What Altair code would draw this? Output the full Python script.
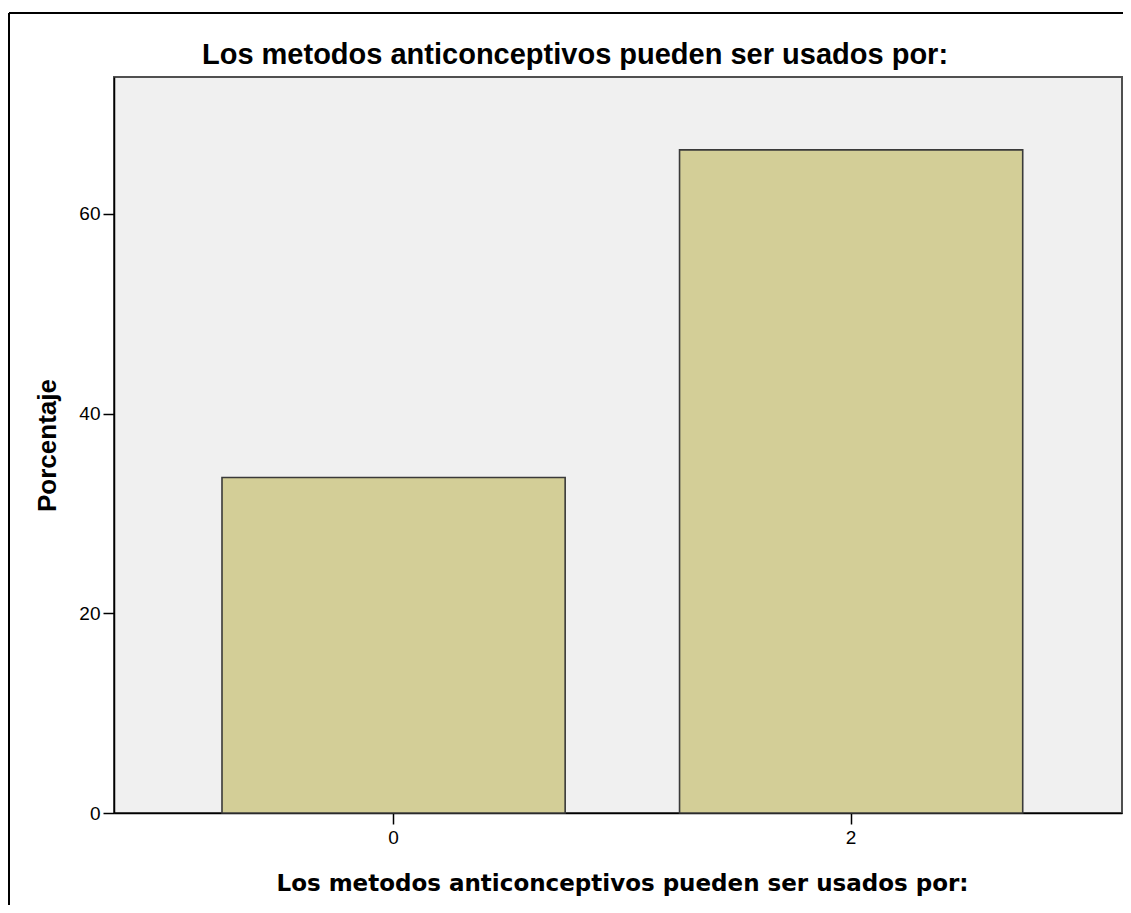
import altair as alt
import pandas as pd

categories = ["0", "2"]
percentages = [33.6, 66.4]
y_ticks = [0, 20, 40, 60]

TITLE = "Los metodos anticonceptivos pueden ser usados por:"

df = pd.DataFrame({"cat": categories, "pct": percentages})

W, H = 1008, 736
PL, PT = 106, 69
CW, CH = 1115, 897

bars = alt.Chart(df).mark_bar(
    color="#D3CE97", stroke="#3A3A3A", strokeWidth=1.6
).encode(
    x=alt.X(
        "cat:N",
        sort=categories,
        scale=alt.Scale(paddingInner=0.25, paddingOuter=0.2265, align=0.521),
        axis=alt.Axis(
            title=TITLE,
            labelAngle=0,
            labelFont="Liberation Sans",
            labelFontSize=19,
            labelColor="#000000",
            labelPadding=4,
            tickSize=11,
            tickColor="#000000",
            tickWidth=1.5,
            domainColor="#000000",
            domainWidth=1.5,
            titleFont="DejaVu Sans",
            titleFontWeight="bold",
            titleFontSize=23,
            titleColor="#000000",
            titleBaseline="alphabetic",
            titleX=508,
            titleY=77,
        ),
    ),
    y=alt.Y(
        "pct:Q",
        scale=alt.Scale(domain=[0, 73.7], nice=False),
        axis=alt.Axis(
            title="Porcentaje",
            values=y_ticks,
            grid=False,
            labelFont="Liberation Sans",
            labelFontSize=19,
            labelColor="#000000",
            labelPadding=3,
            tickSize=11,
            tickColor="#000000",
            tickWidth=1.5,
            domainColor="#000000",
            domainWidth=1.5,
            titleFont="Liberation Sans",
            titleFontWeight="bold",
            titleFontSize=26,
            titleColor="#000000",
            titleBaseline="alphabetic",
            titleX=-59,
            titleY=H / 2,
        ),
    ),
)

frame_left = alt.Chart(df).mark_rule(color="#000000", strokeWidth=2).encode(
    x=alt.value(-(PL - 1)), y=alt.value(-(PT - 5)), y2=alt.value(CH - PT)
)
frame_top = alt.Chart(df).mark_rule(color="#000000", strokeWidth=2).encode(
    x=alt.value(-(PL - 1)), x2=alt.value(CW - PL), y=alt.value(-(PT - 5))
)

chart = alt.layer(bars, frame_left, frame_top).properties(
    width=W,
    height=H,
    padding={"left": PL, "top": PT, "right": CW - PL - W, "bottom": CH - PT - H},
    autosize=alt.AutoSizeParams(type="none"),
    title=alt.TitleParams(
        TITLE,
        font="Liberation Sans",
        fontSize=29,
        fontWeight="bold",
        color="#000000",
        anchor="middle",
        frame="group",
        baseline="alphabetic",
        offset=13,
        dx=-43,
        dy=94,
    ),
).configure(
    background="#FFFFFF"
).configure_view(
    fill="#F0F0F0", stroke="#505050", strokeWidth=2
)

chart.save("out.html", embed_options={"renderer": "svg", "actions": False})
